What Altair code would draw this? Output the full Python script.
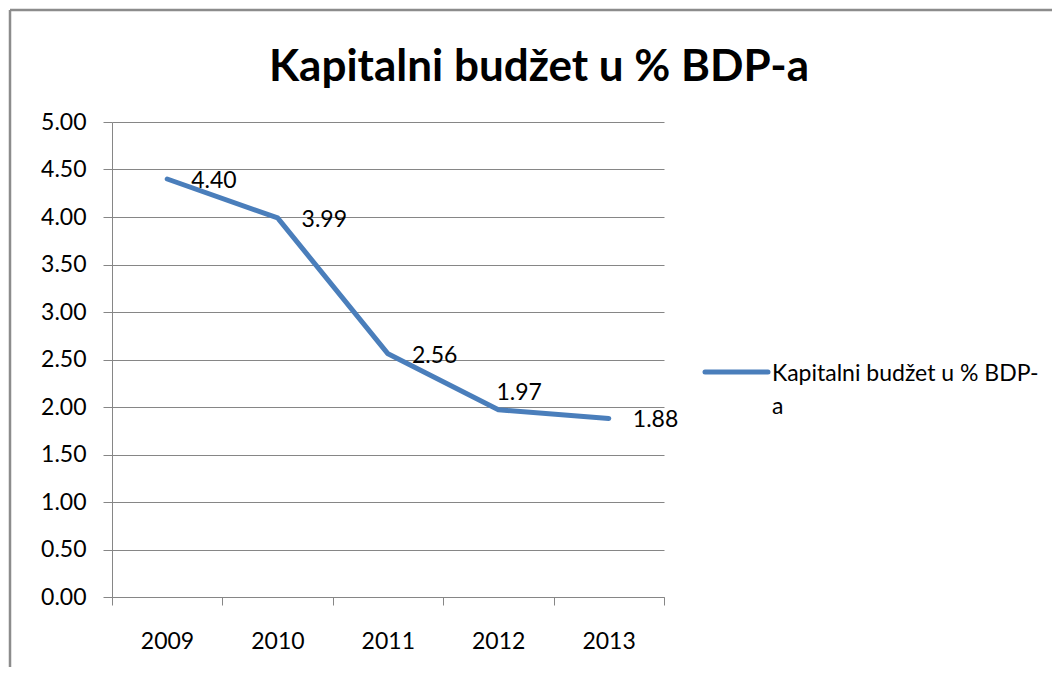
import altair as alt
import pandas as pd

years = [2009, 2010, 2011, 2012, 2013]
values = [4.40, 3.99, 2.56, 1.97, 1.88]
series_name = "Kapitalni budžet u % BDP-a"
title_text = "Kapitalni budžet u % BDP-a"
y_ticks = [0, 0.5, 1, 1.5, 2, 2.5, 3, 3.5, 4, 4.5, 5]
x_edges = [2008.5, 2009.5, 2010.5, 2011.5, 2012.5, 2013.5]

df = pd.DataFrame({"year": years, "value": values, "series": [series_name] * len(years)})
legend_df = pd.DataFrame({"series": [series_name]})

FONT = "Lato"
GRAY = "#868686"
BLUE = "#4A7EBB"

color = alt.Color("series:N", scale=alt.Scale(range=[BLUE]), legend=None)

x_enc = alt.X(
    "year:Q",
    scale=alt.Scale(domain=[x_edges[0], x_edges[-1]], nice=False, zero=False),
    axis=alt.Axis(
        values=x_edges,
        labelExpr="datum.value > 2013 ? '' : format(datum.value + 0.5, 'd')",
        labelOffset=55,
        labelFlush=False,
        title=None,
        grid=False,
        domainColor=GRAY,
        tickColor=GRAY,
        tickSize=8,
        labelPadding=25,
        labelFont=FONT,
        labelFontSize=23,
        labelColor="black",
    ),
)
y_enc = alt.Y(
    "value:Q",
    scale=alt.Scale(domain=[0, 5], nice=False),
    axis=alt.Axis(
        values=y_ticks,
        format=".2f",
        title=None,
        grid=True,
        gridColor=GRAY,
        domainColor=GRAY,
        tickColor=GRAY,
        tickSize=9,
        labelPadding=17,
        labelFont=FONT,
        labelFontSize=23,
        labelColor="black",
    ),
)

line = alt.Chart(df).mark_line(strokeWidth=5, strokeCap="round", strokeJoin="round").encode(
    x=x_enc, y=y_enc, color=color
)

label_style = dict(align="left", baseline="middle", font=FONT, fontSize=23, color="black")
labels_right = alt.Chart(df).transform_filter("datum.year != 2012").mark_text(
    dx=24, dy=2, **label_style
).encode(x="year:Q", y="value:Q", text=alt.Text("value:Q", format=".2f"))
labels_above = alt.Chart(df).transform_filter("datum.year == 2012").mark_text(
    dx=-2, dy=-17, **label_style
).encode(x="year:Q", y="value:Q", text=alt.Text("value:Q", format=".2f"))

legend_line = alt.Chart(legend_df).mark_rule(strokeWidth=5, strokeCap="round").encode(
    x=alt.value(593), x2=alt.value(656), y=alt.value(250), color=color
)
legend_text = alt.Chart(legend_df).transform_calculate(
    lines="[slice(datum.series, 0, length(datum.series) - 1), slice(datum.series, length(datum.series) - 1)]"
).mark_text(
    align="left", baseline="top", font=FONT, fontSize=23, lineHeight=33, color="black"
).encode(x=alt.value(660), y=alt.value(241), text="lines:N")

border_top = alt.Chart(legend_df).mark_rule(color="#8C8C8C", strokeWidth=2.5).encode(
    x=alt.value(-102), x2=alt.value(1000), y=alt.value(-112)
)
border_left = alt.Chart(legend_df).mark_rule(color="#8C8C8C", strokeWidth=2.5).encode(
    x=alt.value(-102), y=alt.value(-112), y2=alt.value(700)
)

chart = alt.layer(
    border_top, border_left, line, labels_right, labels_above, legend_line, legend_text
).properties(
    width=552,
    height=475,
    title=alt.Title(
        title_text,
        font=FONT,
        fontSize=44,
        fontWeight="bold",
        color="black",
        anchor="middle",
        frame="group",
        dx=151,
        offset=-116,
        baseline="alphabetic",
    ),
    autosize=alt.AutoSizeParams(type="none"),
    padding={"left": 104, "top": 114, "right": 388, "bottom": 70},
    background="white",
).configure_view(stroke=None)

chart.save("out.html", embed_options={"renderer": "svg", "actions": False})
